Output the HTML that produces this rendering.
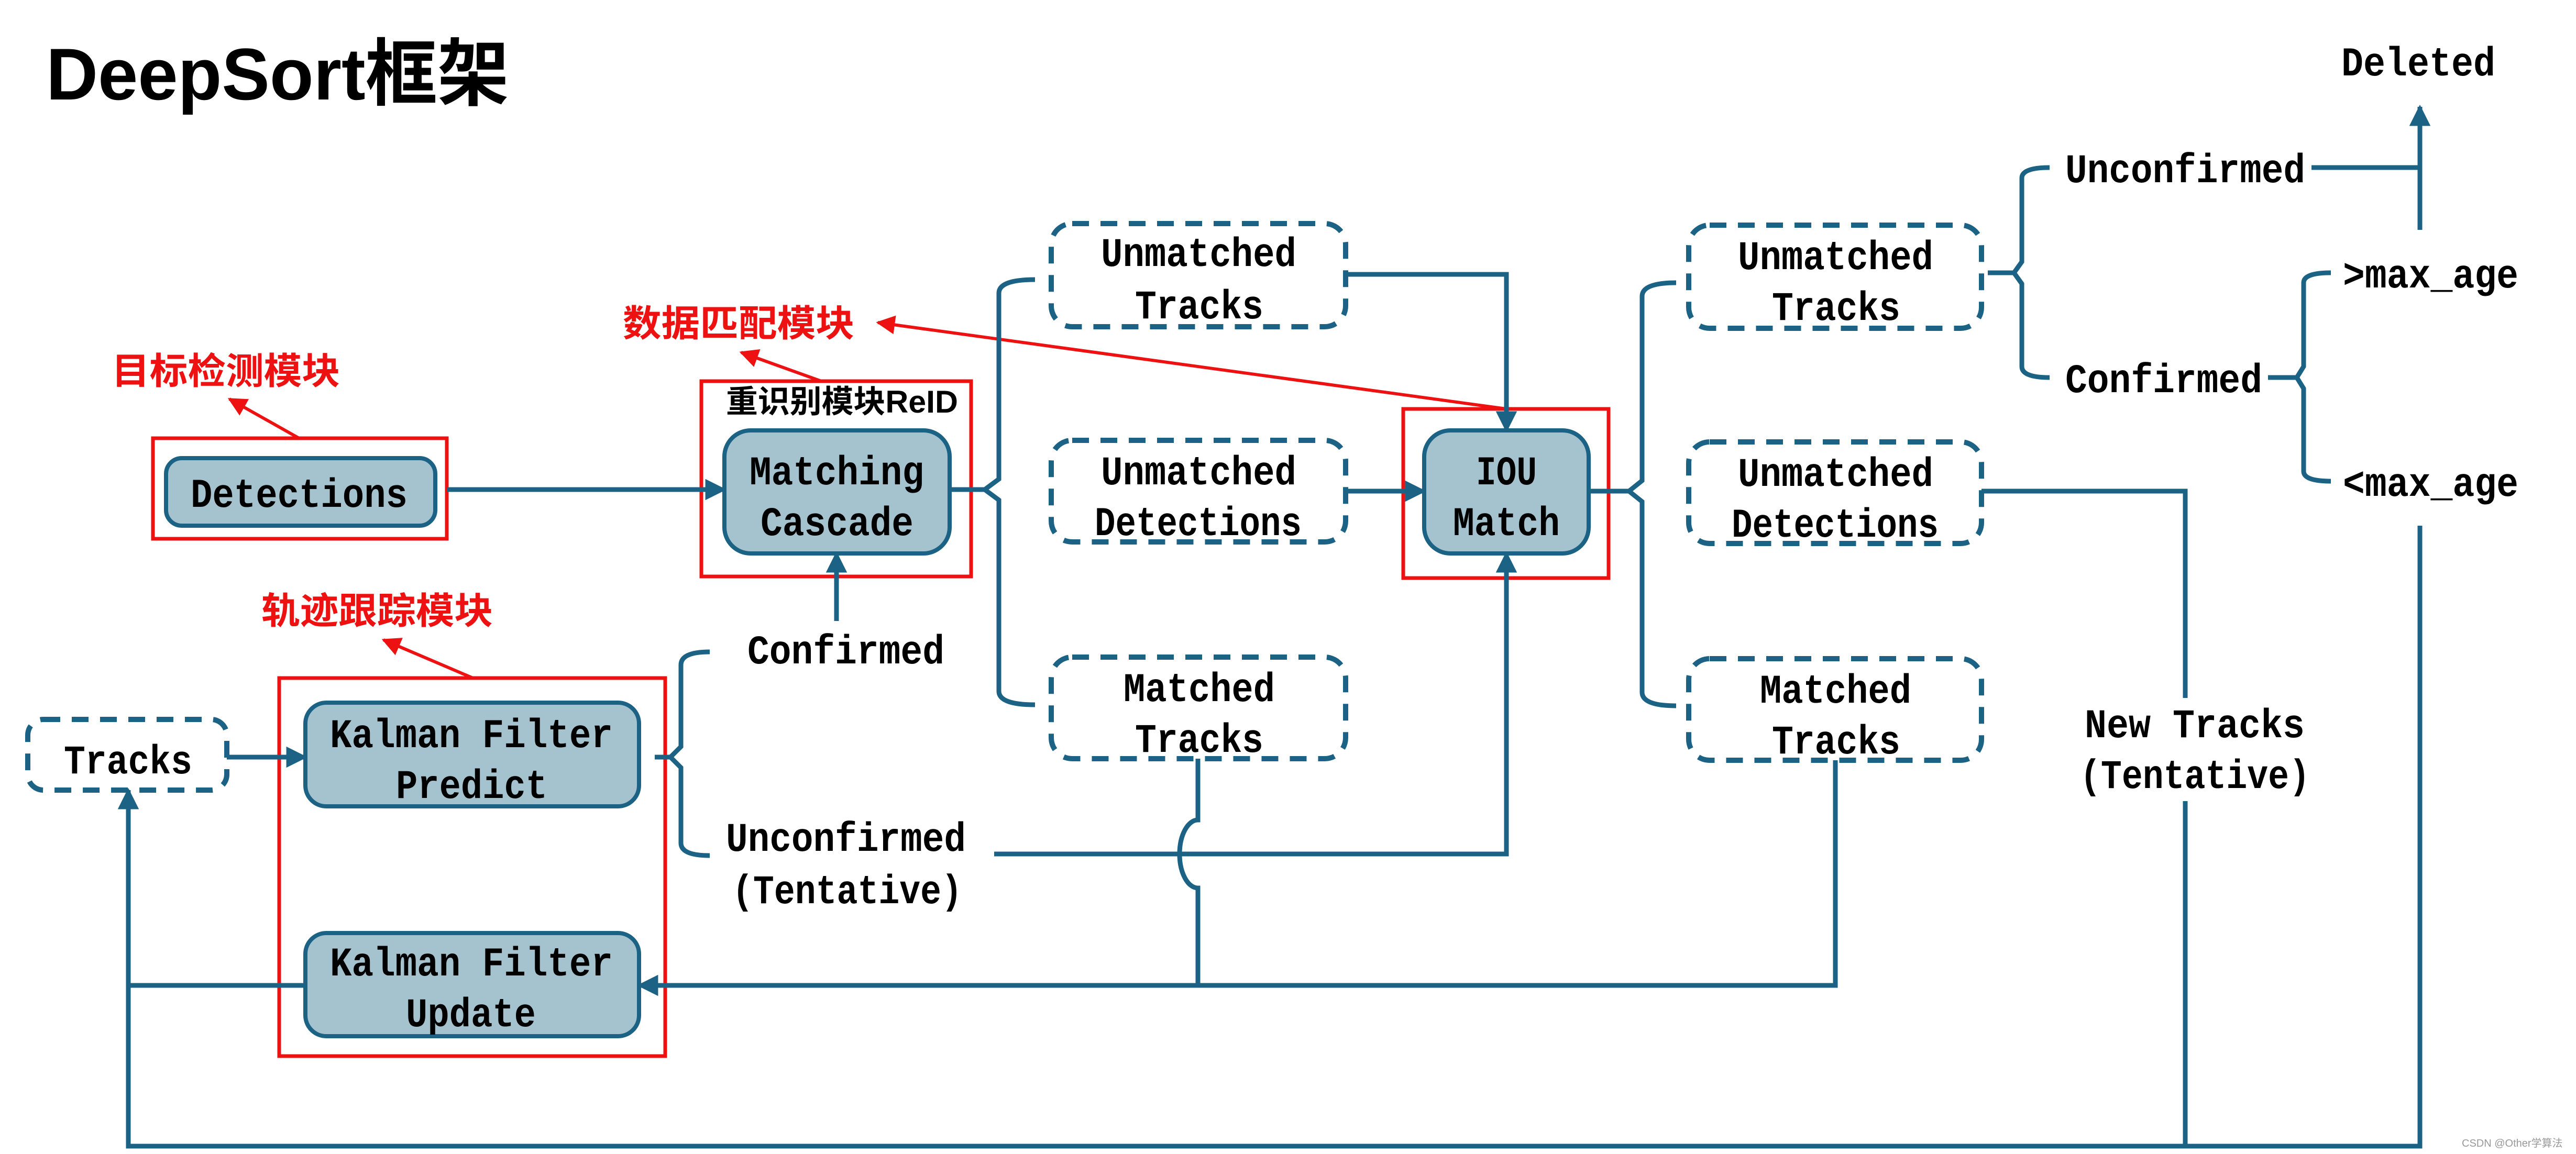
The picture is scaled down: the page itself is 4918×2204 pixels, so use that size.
<!DOCTYPE html>
<html><head><meta charset="utf-8"><style>
html,body{margin:0;padding:0;background:#fff}
svg{display:block}
text{font-family:"Liberation Mono","Noto Sans CJK SC",monospace;fill:#000;font-weight:bold}
.cn{font-family:"Liberation Sans","Noto Sans CJK SC",sans-serif}
</style></head><body>
<svg width="4918" height="2204" viewBox="0 0 4918 2204" xmlns="http://www.w3.org/2000/svg">
<defs>
<marker id="a" viewBox="0 0 10 10" refX="9" refY="5" markerWidth="4.5" markerHeight="4.5" orient="auto" markerUnits="strokeWidth"><path d="M0,0L10,5L0,10z" fill="#1B6285"/></marker>
<marker id="r" viewBox="0 0 10 10" refX="9" refY="5" markerWidth="6" markerHeight="6" orient="auto" markerUnits="strokeWidth"><path d="M0,0L10,5L0,10z" fill="#EE1111"/></marker>
</defs>
<text x="88" y="190" font-size="140" class="cn" textLength="884" lengthAdjust="spacingAndGlyphs">DeepSort框架</text>

<!-- red module boxes -->
<g fill="none" stroke="#EE1111" stroke-width="7">
<rect x="292" y="837" width="561" height="192"/>
<rect x="1339" y="728" width="515" height="373"/>
<rect x="2679" y="781" width="392" height="323"/>
<rect x="533" y="1295" width="737" height="722"/>
</g>
<g stroke="#EE1111" stroke-width="6" fill="none">
<line x1="571" y1="837" x2="438" y2="762" marker-end="url(#r)"/>
<line x1="1568" y1="728" x2="1415" y2="673" marker-end="url(#r)"/>
<line x1="2876" y1="781" x2="1676" y2="616" marker-end="url(#r)"/>
<line x1="903" y1="1295" x2="732" y2="1222" marker-end="url(#r)"/>
</g>
<g fill="#EE1111" font-size="70" class="cn">
<text x="213" y="733" class="cn" fill="#EE1111" style="fill:#EE1111" textLength="436" lengthAdjust="spacingAndGlyphs">目标检测模块</text>
<text x="1189" y="642" class="cn" style="fill:#EE1111" textLength="442" lengthAdjust="spacingAndGlyphs">数据匹配模块</text>
<text x="499" y="1191" class="cn" style="fill:#EE1111" textLength="442" lengthAdjust="spacingAndGlyphs">轨迹跟踪模块</text>
</g>
<text x="1386" y="788" font-size="60" class="cn" textLength="443" lengthAdjust="spacingAndGlyphs">重识别模块ReID</text>

<!-- solid boxes -->
<g fill="#A5C3CF" stroke="#1B6285" stroke-width="8">
<rect x="317" y="875" width="514" height="129" rx="30"/>
<rect x="1383" y="822" width="430" height="235" rx="50"/>
<rect x="2719" y="822" width="314" height="235" rx="50"/>
<rect x="583" y="1342" width="637" height="198" rx="40"/>
<rect x="583" y="1782" width="637" height="197" rx="40"/>
</g>
<!-- dashed boxes -->
<g fill="none" stroke="#1B6285" stroke-width="10" stroke-dasharray="32 22">
<rect x="2007" y="427" width="562" height="197" rx="40"/>
<rect x="2007" y="841" width="562" height="194" rx="40"/>
<rect x="2007" y="1255" width="562" height="194" rx="40"/>
<rect x="3224" y="430" width="559" height="197" rx="40"/>
<rect x="3224" y="844" width="559" height="194" rx="40"/>
<rect x="3224" y="1258" width="559" height="194" rx="40"/>
<rect x="53" y="1374" width="380" height="135" rx="30"/>
</g>

<!-- connectors -->
<g fill="none" stroke="#1B6285" stroke-width="9">
<line x1="853" y1="935" x2="1383" y2="935" marker-end="url(#a)"/>
<line x1="433" y1="1446" x2="583" y2="1446" marker-end="url(#a)"/>
<line x1="1597" y1="1186" x2="1597" y2="1057" marker-end="url(#a)"/>
<line x1="2569" y1="938" x2="2719" y2="938" marker-end="url(#a)"/>
<polyline points="2569,524 2876,524 2876,822" marker-end="url(#a)"/>
<polyline points="1898,1631 2876,1631 2876,1057" marker-end="url(#a)"/>
<path d="M2287,1449 V1566 A35,65 0 0 0 2287,1696 V1882"/>
<polyline points="3504,1452 3504,1882 1220,1882" marker-end="url(#a)"/>
<polyline points="583,1882 245,1882"/>
<polyline points="4620,1004 4620,2189 245,2189 245,1509" marker-end="url(#a)"/>
<polyline points="3783,938 4172,938 4172,1333"/>
<line x1="4172" y1="1530" x2="4172" y2="2189"/>
<line x1="4413" y1="320" x2="4620" y2="320"/>
<line x1="4620" y1="439" x2="4620" y2="204" marker-end="url(#a)"/>
<!-- braces -->
<path d="M1976,534 Q1907,534 1907,560 V915 L1880,935 L1907,955 V1320 Q1907,1346 1976,1346 M1880,935 H1813"/>
<path d="M3200,540 Q3135,540 3135,566 V918 L3110,938 L3135,958 V1322 Q3135,1348 3200,1348 M3110,938 H3033"/>
<path d="M1355,1245 Q1300,1245 1300,1270 V1426 L1280,1446 L1300,1466 V1610 Q1300,1634 1355,1634 M1280,1446 H1250"/>
<path d="M3913,320 Q3860,320 3860,340 V500 L3845,521 L3860,542 V700 Q3860,721 3913,721 M3845,521 H3795"/>
<path d="M4450,521 Q4398,521 4398,540 V700 L4385,721 L4398,742 V900 Q4398,919 4450,919 M4385,721 H4330"/>
</g>

<!-- texts -->
<g font-size="78">
<text x="364" y="968" textLength="414" lengthAdjust="spacingAndGlyphs">Detections</text>
<text x="1431" y="925" textLength="333" lengthAdjust="spacingAndGlyphs">Matching</text>
<text x="1452" y="1022" textLength="292" lengthAdjust="spacingAndGlyphs">Cascade</text>
<text x="2102" y="508" textLength="373" lengthAdjust="spacingAndGlyphs">Unmatched</text>
<text x="2167" y="608" textLength="245" lengthAdjust="spacingAndGlyphs">Tracks</text>
<text x="2102" y="925" textLength="373" lengthAdjust="spacingAndGlyphs">Unmatched</text>
<text x="2090" y="1022" textLength="395" lengthAdjust="spacingAndGlyphs">Detections</text>
<text x="2145" y="1339" textLength="289" lengthAdjust="spacingAndGlyphs">Matched</text>
<text x="2167" y="1436" textLength="245" lengthAdjust="spacingAndGlyphs">Tracks</text>
<text x="3318" y="514" textLength="373" lengthAdjust="spacingAndGlyphs">Unmatched</text>
<text x="3383" y="611" textLength="245" lengthAdjust="spacingAndGlyphs">Tracks</text>
<text x="3318" y="928" textLength="373" lengthAdjust="spacingAndGlyphs">Unmatched</text>
<text x="3306" y="1025" textLength="395" lengthAdjust="spacingAndGlyphs">Detections</text>
<text x="3360" y="1342" textLength="289" lengthAdjust="spacingAndGlyphs">Matched</text>
<text x="3383" y="1439" textLength="245" lengthAdjust="spacingAndGlyphs">Tracks</text>
<text x="2818" y="925" textLength="116" lengthAdjust="spacingAndGlyphs">IOU</text>
<text x="2774" y="1022" textLength="204" lengthAdjust="spacingAndGlyphs">Match</text>
<text x="630" y="1427" textLength="540" lengthAdjust="spacingAndGlyphs">Kalman Filter</text>
<text x="756" y="1524" textLength="289" lengthAdjust="spacingAndGlyphs">Predict</text>
<text x="630" y="1863" textLength="540" lengthAdjust="spacingAndGlyphs">Kalman Filter</text>
<text x="775" y="1960" textLength="248" lengthAdjust="spacingAndGlyphs">Update</text>
<text x="122" y="1477" textLength="245" lengthAdjust="spacingAndGlyphs">Tracks</text>
<text x="1427" y="1267" textLength="376" lengthAdjust="spacingAndGlyphs">Confirmed</text>
<text x="1386" y="1625" textLength="458" lengthAdjust="spacingAndGlyphs">Unconfirmed</text>
<text x="1398" y="1725" textLength="439" lengthAdjust="spacingAndGlyphs">(Tentative)</text>
<text x="3980" y="1408" textLength="420" lengthAdjust="spacingAndGlyphs">New Tracks</text>
<text x="3971" y="1505" textLength="439" lengthAdjust="spacingAndGlyphs">(Tentative)</text>
<text x="3943" y="348" textLength="458" lengthAdjust="spacingAndGlyphs">Unconfirmed</text>
<text x="3943" y="749" textLength="376" lengthAdjust="spacingAndGlyphs">Confirmed</text>
<text x="4473" y="549" textLength="335" lengthAdjust="spacingAndGlyphs">&gt;max_age</text>
<text x="4473" y="947" textLength="335" lengthAdjust="spacingAndGlyphs">&lt;max_age</text>
<text x="4470" y="144" textLength="294" lengthAdjust="spacingAndGlyphs">Deleted</text>
</g>
<text x="4700" y="2190" font-size="20" style="fill:#999;font-weight:normal" class="cn">CSDN @Other学算法</text>
</svg>
</body></html>
